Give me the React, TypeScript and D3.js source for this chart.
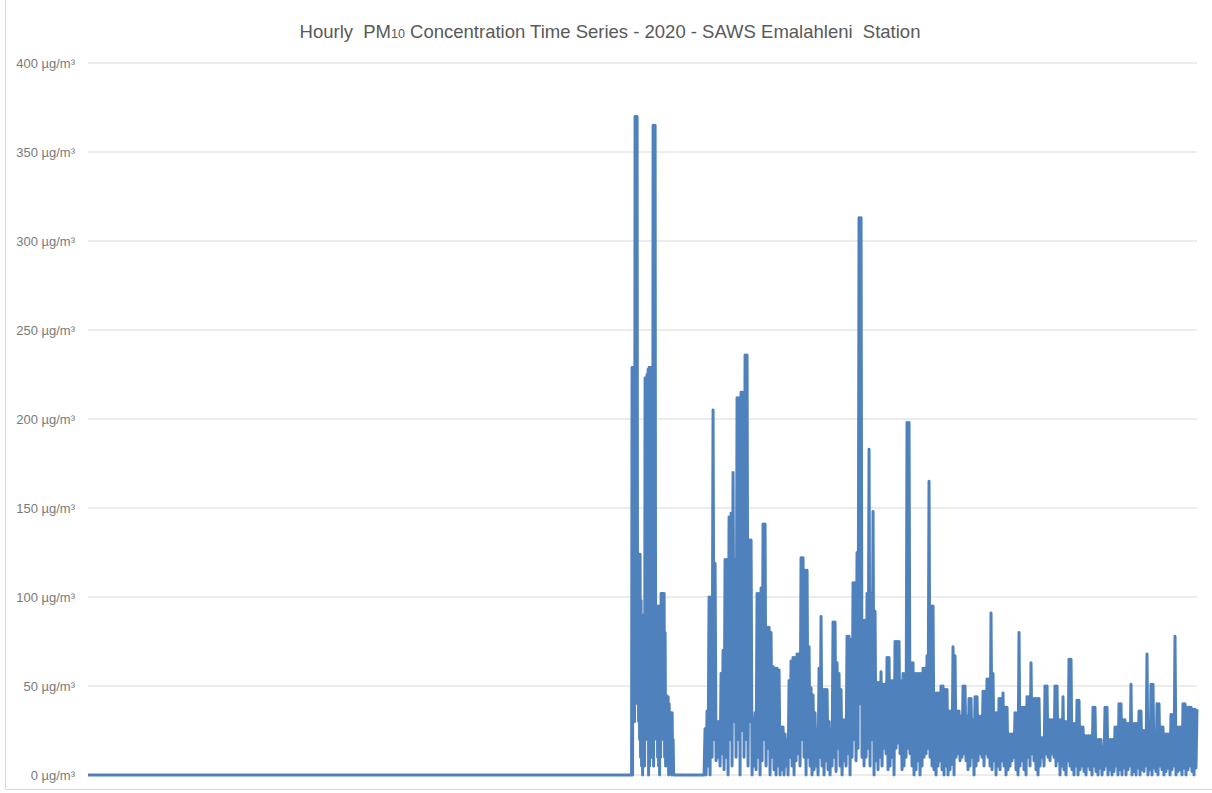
import React from "react";
import * as d3 from "d3";

const yTicks = [0, 50, 100, 150, 200, 250, 300, 350, 400];
const yUnit = "µg/m³";

const yearStart = new Date(2020, 0, 1, 0);
const yearEnd = new Date(2020, 11, 31, 23);

// Zero readings before / between the measured periods
const zeroDates = [new Date(2020, 0, 1, 0), new Date(2020, 6, 22, 7)];

// First burst (late June – mid July): upper and lower readings, alternating in time
const seg1Start = new Date(2020, 5, 28, 5);
const seg1End = new Date(2020, 6, 12, 14);
const seg1High = [
  0, 229, 229, 229, 370, 370, 370, 124, 124, 124,
  98, 90, 60, 45, 223, 223, 225, 228, 229, 229,
  229, 229, 365, 365, 365, 90, 92, 95, 90, 95,
  102, 102, 102, 102, 80, 45, 44, 44, 40, 35,
  35, 35, 20, 0,
];
const seg1Low = [
  0, 0, 60, 30, 100, 60, 40, 30, 20, 10,
  5, 0, 10, 5, 20, 25, 20, 0, 5, 10,
  10, 12, 5, 30, 40, 20, 10, 5, 0, 10,
  20, 30, 20, 10, 5, 10, 5, 0, 10, 5,
  0, 5, 0, 0,
];

// Continuous record from late July to year end
const seg2Start = new Date(2020, 6, 22, 15);
const seg2End = new Date(2020, 11, 31, 23);
const seg2High = [
  26, 36, 100, 100, 205, 119, 30, 30, 57, 70,
  121, 121, 145, 147, 170, 121, 212, 212, 215, 215,
  236, 236, 132, 132, 32, 35, 102, 102, 105, 141,
  141, 83, 83, 80, 61, 60, 60, 59, 27, 27,
  23, 20, 53, 64, 66, 66, 68, 68, 122, 122,
  115, 115, 72, 49, 45, 35, 26, 60, 89, 48,
  48, 48, 30, 26, 86, 86, 63, 57, 48, 31,
  31, 78, 78, 76, 108, 108, 125, 313, 313, 87,
  87, 102, 183, 102, 148, 92, 52, 52, 58, 51,
  51, 66, 66, 53, 53, 75, 75, 75, 53, 57,
  57, 198, 198, 63, 63, 57, 57, 57, 57, 60,
  60, 67, 165, 95, 95, 46, 46, 46, 50, 50,
  48, 48, 36, 36, 72, 67, 36, 36, 33, 50,
  50, 33, 43, 43, 31, 44, 44, 33, 33, 47,
  47, 54, 54, 91, 57, 35, 35, 43, 43, 46,
  38, 38, 23, 23, 23, 35, 35, 80, 38, 38,
  38, 44, 44, 63, 43, 43, 43, 43, 21, 21,
  50, 50, 31, 31, 31, 50, 50, 31, 31, 44,
  30, 30, 65, 65, 29, 29, 42, 42, 27, 27,
  22, 22, 22, 22, 38, 38, 20, 20, 20, 16,
  38, 38, 20, 20, 20, 27, 27, 40, 40, 31,
  31, 29, 29, 51, 29, 29, 29, 36, 36, 25,
  25, 68, 16, 51, 51, 6, 40, 40, 27, 27,
  23, 23, 23, 34, 34, 78, 27, 27, 27, 40,
  40, 38, 38, 38, 37, 37, 37,
];
const seg2Low = [
  0, 5, 0, 10, 20, 8, 10, 5, 12, 3,
  10, 0, 20, 5, 30, 10, 20, 0, 25, 10,
  20, 5, 30, 0, 5, 3, 10, 0, 8, 20,
  5, 15, 0, 10, 3, 0, 5, 0, 3, 0,
  5, 0, 10, 5, 0, 8, 12, 5, 20, 10,
  0, 10, 5, 0, 3, 5, 0, 10, 5, 0,
  8, 3, 0, 5, 10, 2, 15, 5, 0, 8,
  5, 12, 0, 10, 20, 8, 15, 40, 10, 5,
  10, 15, 5, 20, 0, 8, 3, 10, 5, 15,
  12, 3, 5, 10, 0, 15, 18, 12, 3, 5,
  10, 15, 12, 5, 0, 3, 8, 0, 5, 10,
  12, 15, 10, 5, 3, 0, 5, 8, 3, 0,
  5, 0, 3, 6, 0, 10, 12, 8, 10, 12,
  8, 3, 5, 10, 0, 5, 8, 12, 10, 5,
  12, 10, 5, 3, 8, 0, 5, 3, 8, 5,
  0, 3, 5, 8, 10, 3, 0, 5, 8, 3,
  0, 10, 5, 12, 8, 3, 0, 5, 10, 5,
  12, 10, 8, 12, 10, 5, 8, 0, 5, 3,
  0, 8, 5, 3, 0, 5, 0, 3, 5, 2,
  0, 5, 3, 0, 5, 2, 0, 4, 0, 3,
  5, 0, 3, 0, 2, 5, 0, 3, 0, 4,
  0, 3, 5, 0, 2, 0, 4, 0, 3, 2,
  5, 0, 3, 0, 4, 2, 0, 5, 3, 0,
  2, 4, 0, 3, 5, 0, 2, 3, 0, 4,
  0, 3, 5, 2, 0, 4,
];

type Pt = { t: Date; v: number };

function interleave(high: number[], low: number[]): number[] {
  const out: number[] = [];
  high.forEach((h, i) => {
    out.push(h);
    if (i < low.length) out.push(low[i]);
  });
  return out;
}

function spread(start: Date, end: Date, values: number[]): Pt[] {
  const n = values.length;
  const s = start.getTime();
  const step = (end.getTime() - s) / (n - 1);
  return values.map((v, i) => ({ t: new Date(s + i * step), v }));
}

const series: Pt[] = [
  { t: zeroDates[0], v: 0 },
  ...spread(seg1Start, seg1End, interleave(seg1High, seg1Low)),
  { t: zeroDates[1], v: 0 },
  ...spread(seg2Start, seg2End, interleave(seg2High, seg2Low)),
];

export default function App() {
  const W = 1212;
  const H = 793;
  const left = 88;
  const right = 1197;
  const top = 63;
  const bottom = 775;

  const x = d3.scaleTime().domain([yearStart, yearEnd]).range([left, right]);
  const y = d3.scaleLinear().domain([0, 400]).range([bottom, top]);
  const line = d3
    .line<Pt>()
    .x((d) => x(d.t))
    .y((d) => y(d.v));

  const font = "'Liberation Sans', Arial, sans-serif";

  return (
    <svg
      width={W}
      height={H}
      style={{ position: "absolute", left: 0, top: 0, background: "#fff" }}
      fontFamily={font}
    >
      <rect x={0} y={0} width={W} height={H} fill="#fff" />
      <line x1={5.5} x2={5.5} y1={0} y2={789.5} stroke="#d9d9d9" />
      <line x1={5.5} x2={W} y1={789.5} y2={789.5} stroke="#d9d9d9" />
      <text
        x={610}
        y={38}
        textAnchor="middle"
        fontSize={18.5}
        fill="#595959"
        style={{ whiteSpace: "pre" }}
      >
        {"Hourly  PM"}
        <tspan fontSize={12.5}>10</tspan>
        {" Concentration Time Series - 2020 - SAWS Emalahleni  Station"}
      </text>
      {yTicks.map((t) => (
        <g key={t}>
          <line x1={left} x2={right} y1={y(t)} y2={y(t)} stroke="#d9d9d9" strokeWidth={1} />
          <text
            x={75}
            y={y(t)}
            dy="0.35em"
            textAnchor="end"
            fontSize={13}
            fill="#7a7a7a"
          >
            {`${t} ${yUnit}`}
          </text>
        </g>
      ))}
      <path
        d={line(series) || ""}
        fill="none"
        stroke="#4F81BD"
        strokeWidth={3}
        strokeLinejoin="round"
      />
    </svg>
  );
}
